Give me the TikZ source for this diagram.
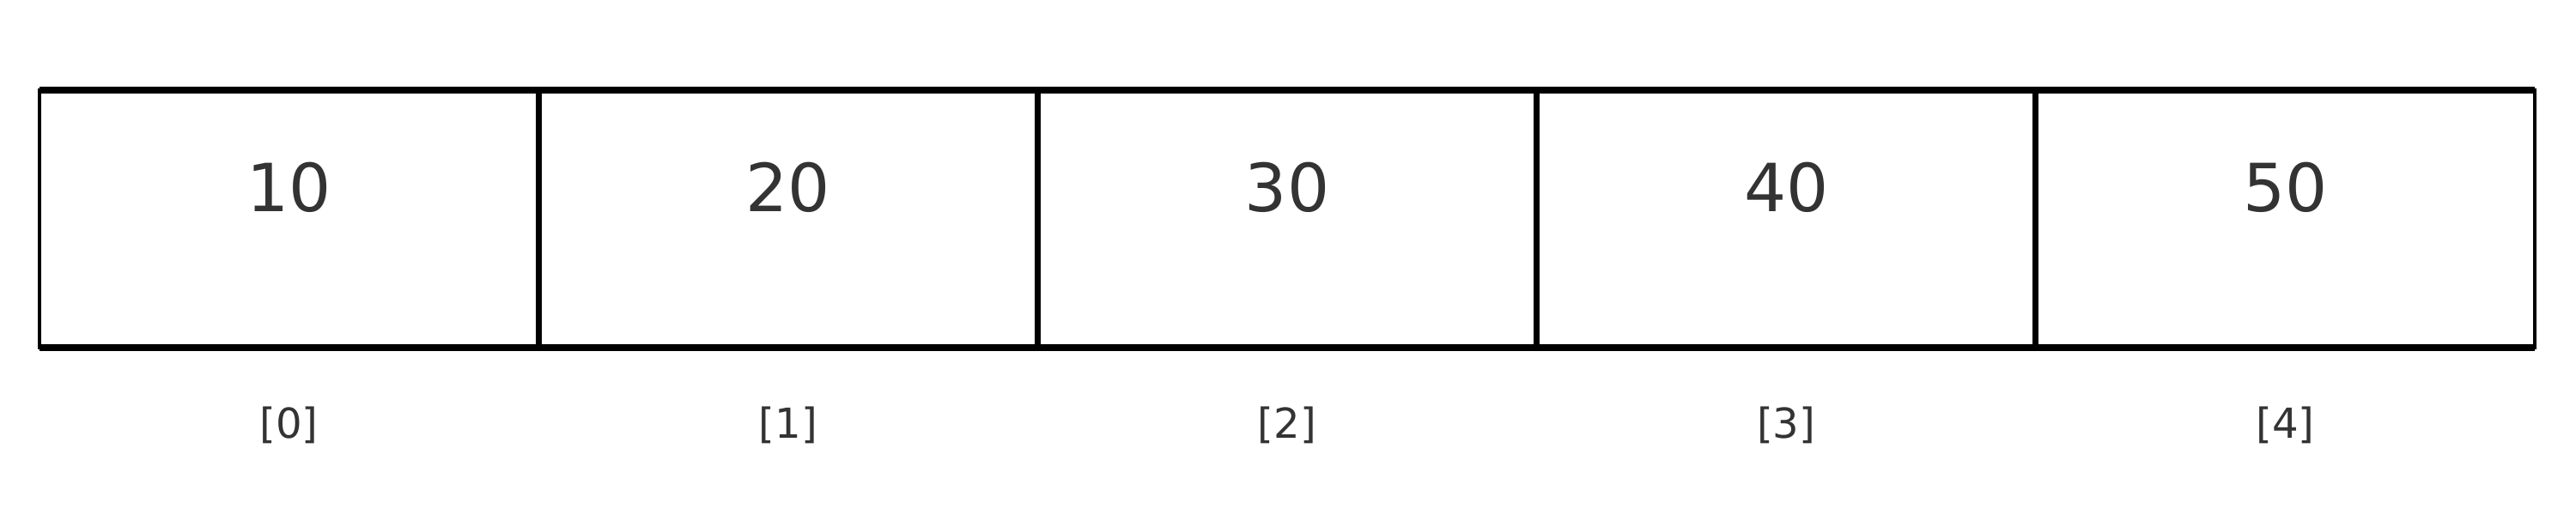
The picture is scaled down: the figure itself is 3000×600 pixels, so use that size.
\documentclass[tikz,border=0pt]{standalone}
\usepackage{fontspec}
\setmainfont{DejaVu Sans}
\definecolor{txt}{HTML}{333333}
\begin{document}
\begin{tikzpicture}[x=0.1mm,y=-0.1mm,
  cellbox/.style={draw=black,line width=1.14pt,minimum width=58.12mm,minimum height=30mm,inner sep=0pt,outer sep=0pt,anchor=north west},
  valtext/.style={text=txt,font=\fontsize{22}{26}\selectfont,anchor=base,inner sep=0pt},
  idxtext/.style={text=txt,font=\fontsize{13.7}{16}\selectfont,anchor=base,inner sep=0pt}]
\useasboundingbox (0,0) rectangle (3000,600);
\foreach \i/\v in {0/10,1/20,2/30,3/40,4/50}{
  \node[cellbox] (c\i) at ({46+581.2*\i},105) {};
  \node[valtext] (v\i) at ({46+581.2*(\i+0.5)},247) {\v};
  \node[idxtext] (l\i) at ({46+581.2*(\i+0.5)},510) {[\i]};
}
\draw[line width=2.28pt] (c0.north west) -- (c4.north east);
\draw[line width=2.28pt] (c0.south west) -- (c4.south east);
\foreach \i in {0,1,2,3}{
  \draw[line width=1.9pt] (c\i.north east) -- (c\i.south east);
}
\end{tikzpicture}
\end{document}
